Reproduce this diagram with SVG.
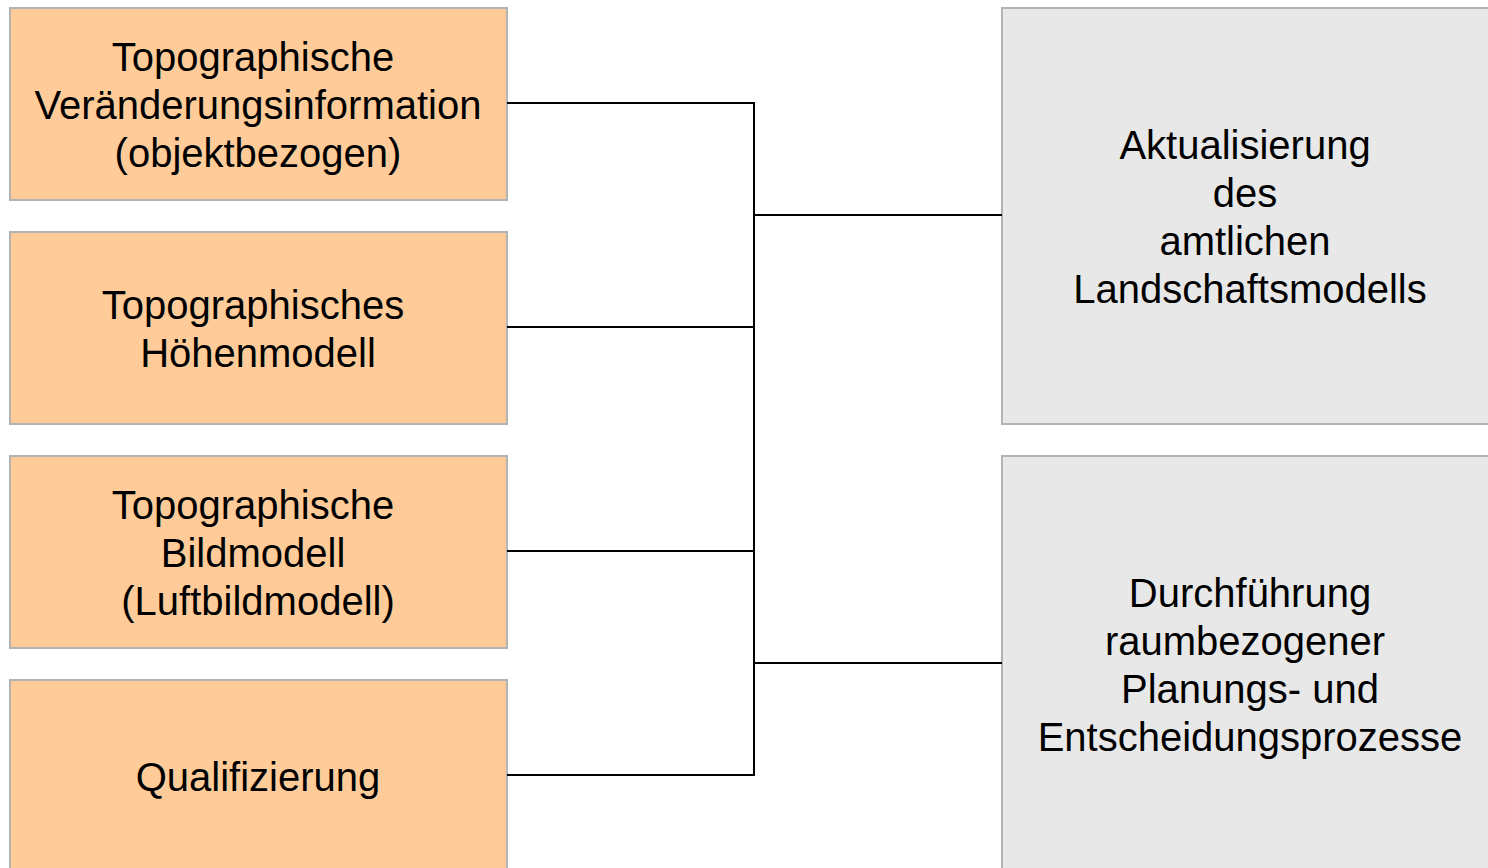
<svg xmlns="http://www.w3.org/2000/svg" width="1488" height="868" viewBox="0 0 1488 868">
<style>
.src{fill:#ffcc99;stroke:#b3b3b3;stroke-width:2}
.dst{fill:#e8e8e8;stroke:#b3b3b3;stroke-width:2}
text{font-family:"Liberation Sans",Arial,sans-serif;font-size:40px;fill:#000;text-anchor:middle}
.c{fill:none;stroke:#000;stroke-width:2}
</style>
<rect width="1488" height="868" fill="#fff"/>
<g id="n1"><rect class="src" x="10" y="8" width="497" height="192"/>
<text x="253" y="71">Topographische</text><text x="258" y="119">Veränderungsinformation</text><text x="258" y="167">(objektbezogen)</text></g>
<g id="n2"><rect class="src" x="10" y="232" width="497" height="192"/>
<text x="253" y="319">Topographisches</text><text x="258" y="367">Höhenmodell</text></g>
<g id="n3"><rect class="src" x="10" y="456" width="497" height="192"/>
<text x="253" y="519">Topographische</text><text x="253" y="567">Bildmodell</text><text x="258" y="615">(Luftbildmodell)</text></g>
<g id="n4"><rect class="src" x="10" y="680" width="497" height="200"/>
<text x="258" y="791">Qualifizierung</text></g>
<g id="n5"><rect class="dst" x="1002" y="8" width="500" height="416"/>
<text x="1245" y="159">Aktualisierung</text><text x="1245" y="207">des</text><text x="1245" y="255">amtlichen</text><text x="1250" y="303">Landschaftsmodells</text></g>
<g id="n6"><rect class="dst" x="1002" y="456" width="500" height="430"/>
<text x="1250" y="607">Durchführung</text><text x="1245" y="655">raumbezogener</text><text x="1250" y="703">Planungs- und</text><text x="1250" y="751">Entscheidungsprozesse</text></g>
<g id="connectors">
<path class="c" d="M507 103H754V775H507"/>
<path class="c" d="M507 327H754M507 551H754"/>
<path class="c" d="M754 215H1002M754 663H1002"/>
</g>
</svg>
